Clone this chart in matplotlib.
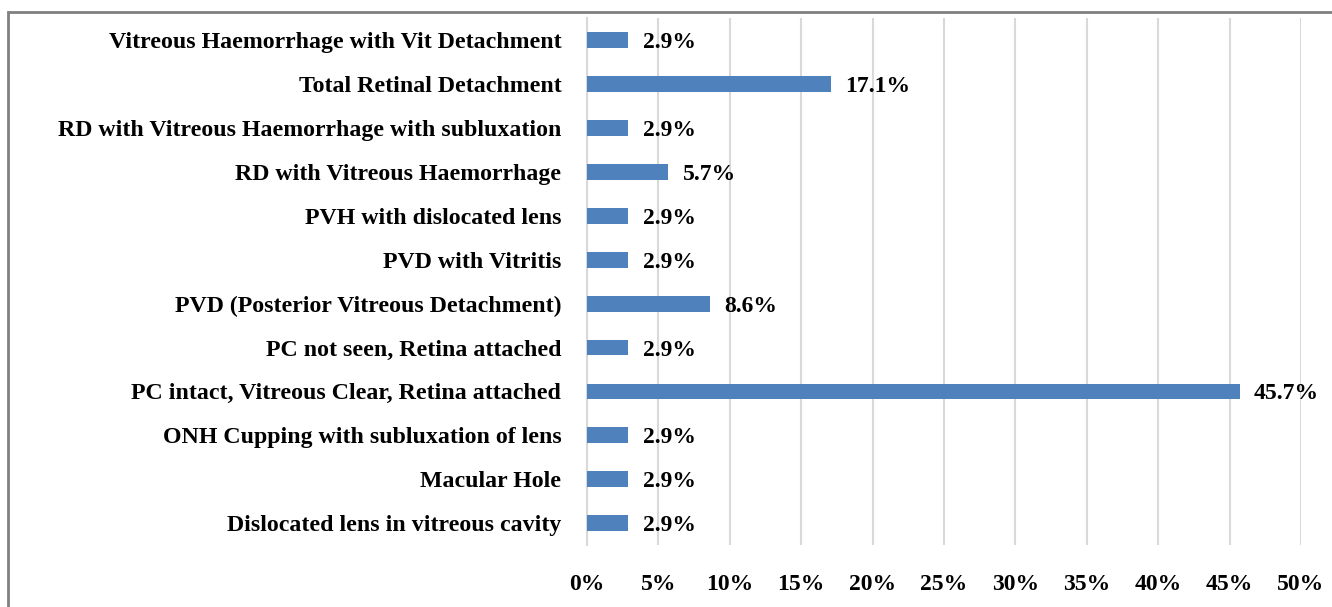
import matplotlib.pyplot as plt
from matplotlib.patches import Rectangle

# Categories (top to bottom) and percentages
categories = [
    "Vitreous Haemorrhage with Vit Detachment",
    "Total Retinal Detachment",
    "RD with Vitreous Haemorrhage with subluxation",
    "RD with Vitreous Haemorrhage",
    "PVH with dislocated lens",
    "PVD with Vitritis",
    "PVD (Posterior Vitreous Detachment)",
    "PC not seen, Retina attached",
    "PC intact, Vitreous Clear, Retina attached",
    "ONH Cupping with subluxation of lens",
    "Macular Hole",
    "Dislocated lens in vitreous cavity",
]
values = [2.9, 17.1, 2.9, 5.7, 2.9, 2.9, 8.6, 2.9, 45.7, 2.9, 2.9, 2.9]
xticks = [0, 5, 10, 15, 20, 25, 30, 35, 40, 45, 50]

plt.rcParams['font.family'] = ['Liberation Serif', 'DejaVu Serif']
plt.rcParams['font.weight'] = 'bold'

fig = plt.figure(figsize=(13.32, 6.07), dpi=100)
ax = fig.add_axes([0.4407, 0.102, 0.536, 0.868])

ypos = list(range(len(categories)))[::-1]
ax.barh(ypos, values, height=0.36, color="#4F81BD", zorder=3)

for y, v in zip(ypos, values):
    ax.text(v + 1.0, y, f"{v:.1f}%", va="center_baseline", ha="left",
            fontsize=17, fontweight="bold")

ax.set_xlim(0, 50)
ax.set_ylim(-0.5, len(categories) - 0.5)
ax.set_yticks(ypos)
ax.set_yticklabels(categories, fontsize=17.2, fontweight="bold")
ax.set_xticks(xticks)
ax.set_xticklabels([f"{t}%" for t in xticks], fontsize=17, fontweight="bold")
ax.tick_params(length=0)
ax.tick_params(axis="y", pad=18.5)
ax.tick_params(axis="x", pad=21)

ax.grid(axis="x", color="#D9D9D9", linewidth=1.5, zorder=0)
for side in ["top", "right", "bottom"]:
    ax.spines[side].set_visible(False)
ax.spines["left"].set_color("#D9D9D9")
ax.spines["left"].set_linewidth(1.5)

# outer frame (cut off at the right and bottom edges)
fig.patches.append(Rectangle((8 / 1332, -0.1), 1.2, 1 - 12 / 607 + 0.1,
                             transform=fig.transFigure, fill=False,
                             edgecolor="#808080", linewidth=2))

fig.savefig("out.png", dpi=100)
